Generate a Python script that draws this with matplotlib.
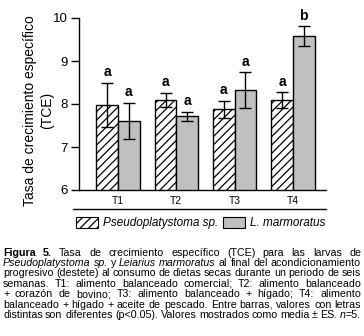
import re
import numpy as np
import matplotlib
matplotlib.use('Agg')
import matplotlib.pyplot as plt
from matplotlib.patches import Patch
from matplotlib.lines import Line2D

plt.rcParams['font.family'] = ['Liberation Sans', 'DejaVu Sans']
plt.rcParams['hatch.linewidth'] = 0.9

# data
treatments = ['T1', 'T2', 'T3', 'T4']
pseudo = [7.98, 8.09, 7.88, 8.09]
pseudo_se = [0.52, 0.17, 0.20, 0.18]
pseudo_let = ['a', 'a', 'a', 'a']
leiarius = [7.61, 7.71, 8.32, 9.58]
leiarius_se = [0.42, 0.11, 0.42, 0.23]
leiarius_let = ['a', 'a', 'a', 'b']
series_names = ['Pseudoplatystoma sp.', 'L. marmoratus']

caption = [
    "**Figura** **5.** Tasa de crecimiento específico (TCE) para las larvas de",
    "*Pseudoplatystoma* *sp.* y *Leiarius* *marmoratus* al final del acondicionamiento",
    "progresivo (destete) al consumo de dietas secas durante un periodo de seis",
    "semanas. T1: alimento balanceado comercial; T2: alimento balanceado",
    "+ corazón de bovino; T3: alimento balanceado + hígado; T4: alimento",
    "balanceado + hígado + aceite de pescado. Entre barras, valores con letras",
    "distintas son diferentes (p<0.05). Valores mostrados como media ± ES. *n*=5.",
]

W, H = 364, 336
fig = plt.figure(figsize=(W / 100, H / 100), dpi=100)
ax = fig.add_axes([79 / W, 1 - 190 / H, (326 - 79) / W, 172 / H])

x = np.arange(len(treatments))
bw = 0.37
gray = '#c0c0c0'
ax.bar(x - bw / 2, pseudo, bw, color='white', edgecolor='black',
       hatch='////', linewidth=1, zorder=2)
ax.bar(x + bw / 2, leiarius, bw, color=gray, edgecolor='black', linewidth=1, zorder=2)
ax.errorbar(x - bw / 2, pseudo, yerr=pseudo_se, fmt='none', ecolor='black',
            elinewidth=1, capsize=4.5, capthick=1, zorder=3)
ax.errorbar(x + bw / 2, leiarius, yerr=leiarius_se, fmt='none', ecolor='black',
            elinewidth=1, capsize=4.5, capthick=1, zorder=3)

for xi, v, e, l in zip(x - bw / 2, pseudo, pseudo_se, pseudo_let):
    ax.annotate(l, (xi, v + e), xytext=(0, 2.5), textcoords='offset points',
                ha='center', va='bottom', fontsize=10, fontweight='bold')
for xi, v, e, l in zip(x + bw / 2, leiarius, leiarius_se, leiarius_let):
    ax.annotate(l, (xi, v + e), xytext=(0, 2.5), textcoords='offset points',
                ha='center', va='bottom', fontsize=10, fontweight='bold')

ax.set_ylim(6, 10)
ax.set_xlim(-0.669, 3.566)
ax.set_yticks([6, 7, 8, 9, 10])
ax.set_xticks(x)
ax.set_xticklabels(treatments, fontsize=7.5)
ax.tick_params(axis='x', length=0, pad=4)
ax.tick_params(axis='y', length=6, width=1, pad=2, labelsize=9.5)
for s in ['top', 'right']:
    ax.spines[s].set_visible(False)
ax.spines['left'].set_linewidth(1)
ax.spines['bottom'].set_linewidth(1)

ax.set_ylabel('Tasa de crecimiento específico\n(TCE)', fontsize=10,
              va='center', linespacing=1.25)
ax.yaxis.set_label_coords(-0.164, 0.46)

# line above the legend
fig.add_artist(Line2D([73 / W, 326 / W], [1 - 209 / H] * 2, color='black', lw=1))

handles = [Patch(facecolor='white', edgecolor='black', hatch='////', linewidth=0.8),
           Patch(facecolor=gray, edgecolor='black', linewidth=0.8)]
fig.legend(handles, series_names, loc='center left',
           bbox_to_anchor=(76 / W, 1 - 223 / H), ncol=2, frameon=False,
           prop={'style': 'italic', 'size': 8.5}, borderpad=0, borderaxespad=0,
           handlelength=1.86, handleheight=1.1, handletextpad=0.42,
           columnspacing=0.42)

# justified caption
renderer = fig.canvas.get_renderer()
left, right = 3, 361
y0, dy = 255.5, 10.45


def parse(word):
    segs = []
    for part in re.split(r'(\*\*[^*]+\*\*|\*[^*]+\*)', word):
        if not part:
            continue
        if part.startswith('**'):
            segs.append((part[2:-2], 'normal', 'bold'))
        elif part.startswith('*'):
            segs.append((part[1:-1], 'italic', 'normal'))
        else:
            segs.append((part, 'normal', 'normal'))
    return segs


def measure(s, size, st='normal', wt='normal'):
    t = fig.text(0, 0, s, fontsize=size, style=st, fontweight=wt)
    w = t.get_window_extent(renderer).width
    t.remove()
    return w


# pick the caption size so the widest line fits with plain word spaces
ref = 10
space = measure('a a', ref) - 2 * measure('a', ref)
widest = 0
for line in caption:
    words = [parse(w) for w in line.split(' ')]
    tot = sum(measure(s, ref, st, wt) for segs in words for s, st, wt in segs)
    tot += (len(words) - 1) * space
    widest = max(widest, tot)
cap_size = ref * (right - left) / widest

for i, line in enumerate(caption):
    words = [parse(w) for w in line.split(' ')]
    arts = []
    total = 0
    for segs in words:
        wa = []
        for s, st, wt in segs:
            t = fig.text(0, 0, s, fontsize=cap_size, style=st, fontweight=wt,
                         va='baseline', ha='left')
            w = t.get_window_extent(renderer).width
            wa.append((t, w))
            total += w
        arts.append(wa)
    gap = (right - left - total) / (len(arts) - 1)
    xp = left
    yb = 1 - (y0 + i * dy) / H
    for wa in arts:
        for t, w in wa:
            t.set_position((xp / W, yb))
            xp += w
        xp += gap

fig.savefig('out.png', dpi=100)
